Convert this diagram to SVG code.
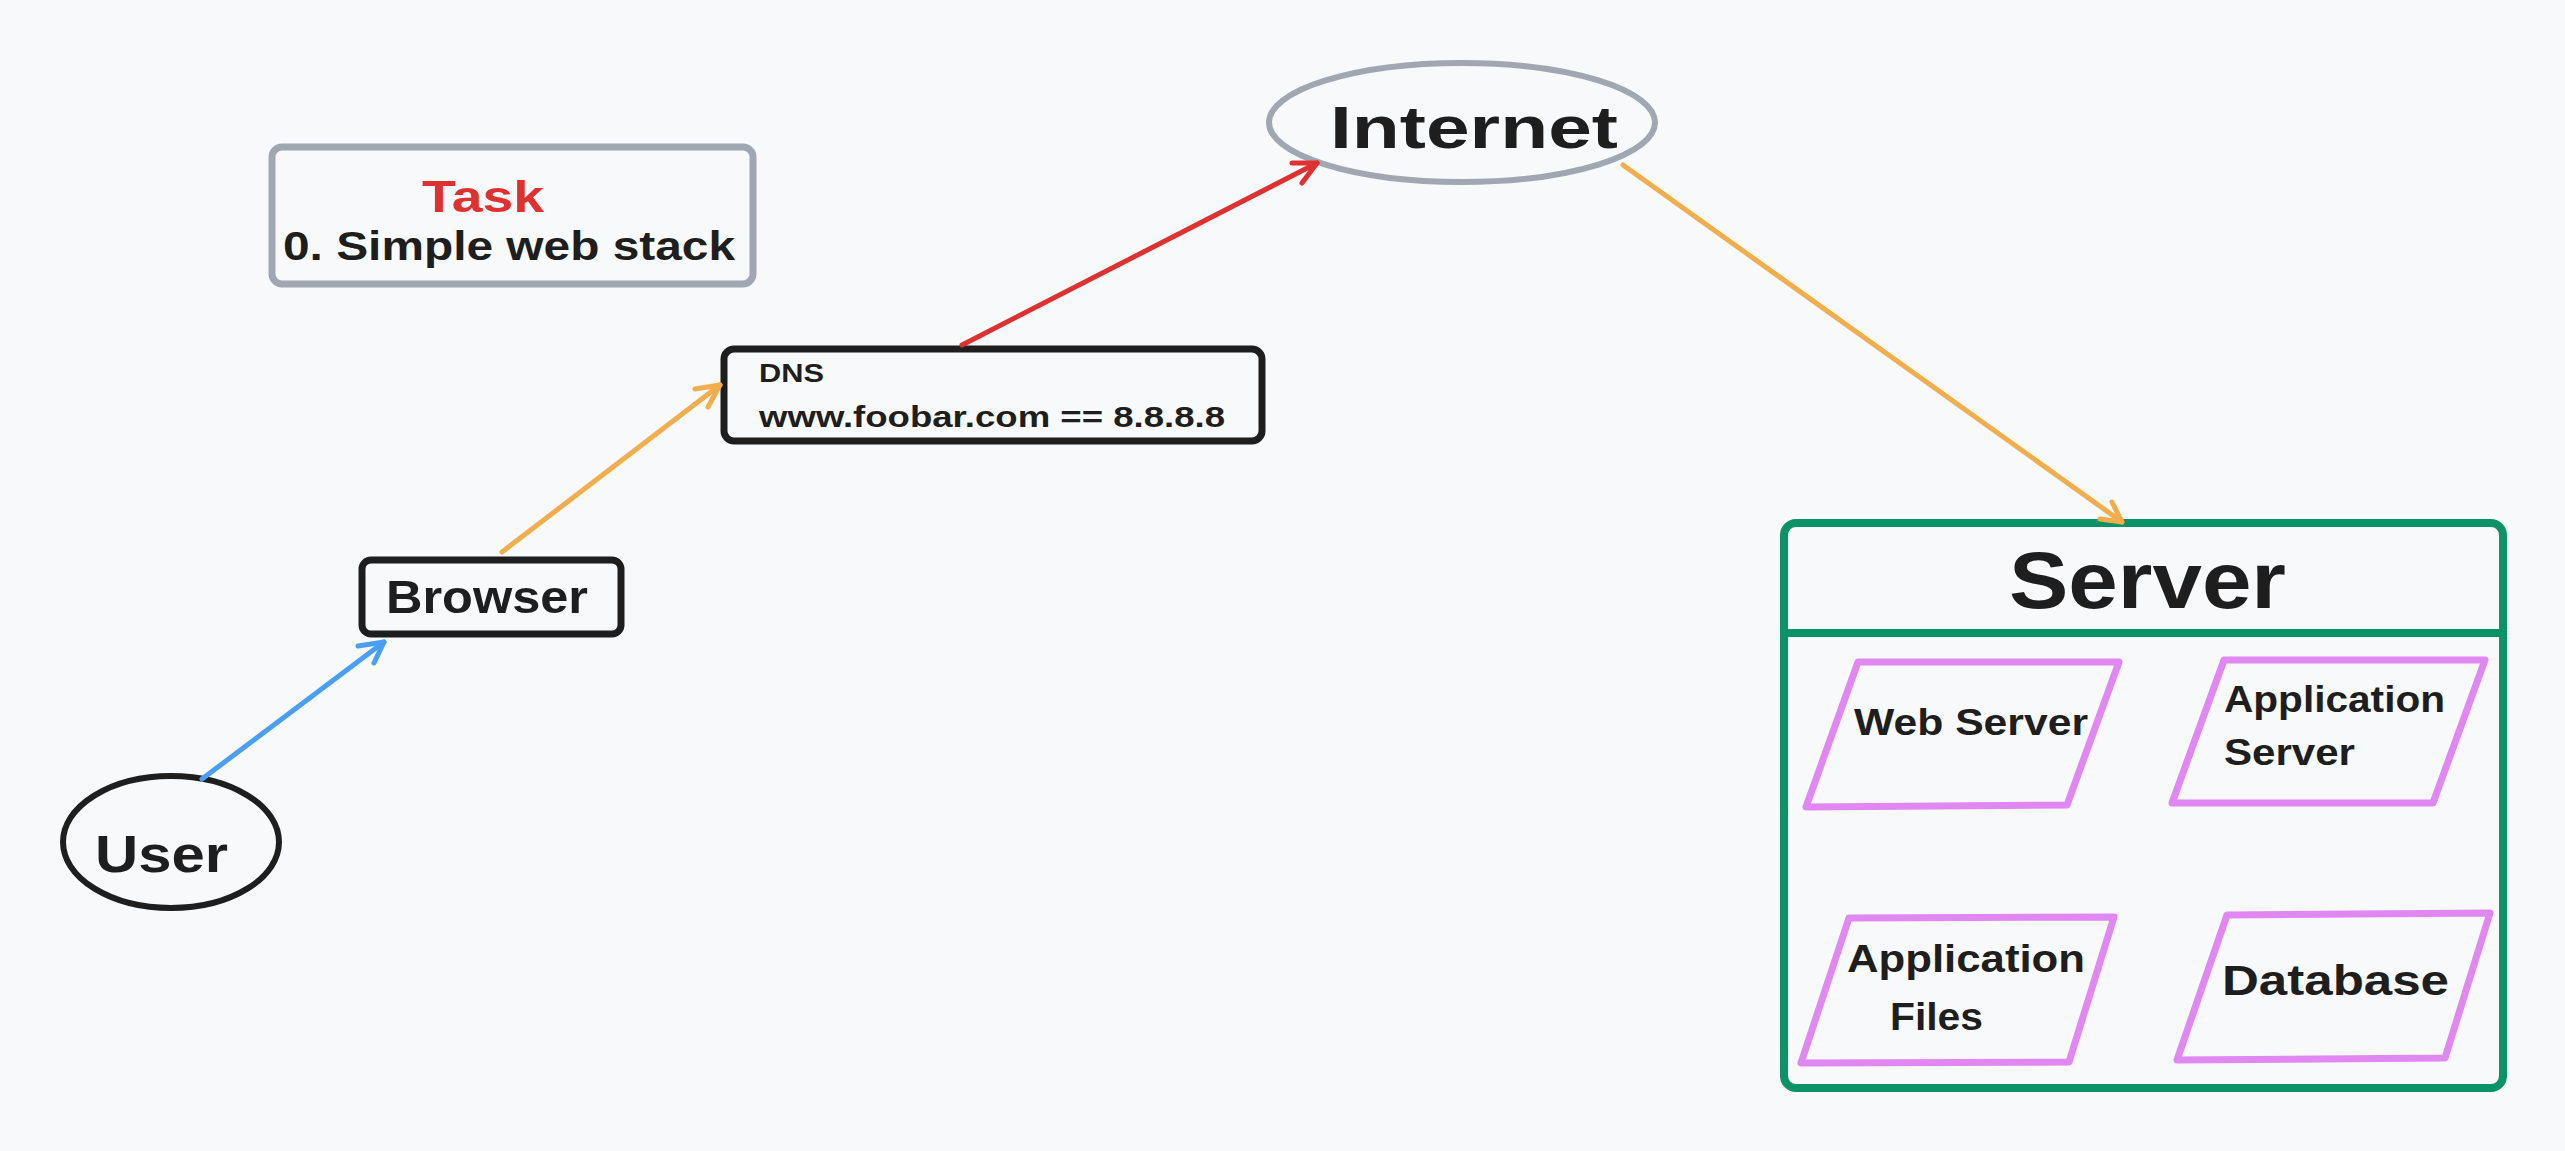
<svg xmlns="http://www.w3.org/2000/svg" width="2565" height="1151" viewBox="0 0 2565 1151">
<style>
  .t { font-family: "Liberation Sans", Arial, sans-serif; font-weight: bold; fill: #1e1e1e; }
  .box { fill: none; stroke: #1e1e1e; stroke-width: 7; }
  .gray { fill: none; stroke: #a0a7b2; stroke-width: 7; }
  .para { fill: none; stroke: #e087f2; stroke-width: 7; stroke-linejoin: round; }
  .arrow { fill: none; stroke-width: 5; stroke-linecap: round; stroke-linejoin: round; }
</style>
<rect width="2565" height="1151" fill="#f8f9fa"/>

<g id="task">
  <rect class="gray" x="272" y="147" width="481" height="137" rx="10"/>
  <text class="t" x="483" y="212" font-size="44" style="fill:#e03131" text-anchor="middle" textLength="122" lengthAdjust="spacingAndGlyphs">Task</text>
  <text class="t" x="283" y="260" font-size="41" textLength="452" lengthAdjust="spacingAndGlyphs">0. Simple web stack</text>
</g>

<g id="user">
  <ellipse cx="171" cy="842" rx="108" ry="66" fill="none" stroke="#1e1e1e" stroke-width="6"/>
  <text class="t" x="95" y="872" font-size="52" textLength="133" lengthAdjust="spacingAndGlyphs">User</text>
</g>

<g id="browser">
  <rect class="box" x="362" y="560" width="259" height="74" rx="9"/>
  <text class="t" x="386" y="613" font-size="46" textLength="202" lengthAdjust="spacingAndGlyphs">Browser</text>
</g>

<g id="dns">
  <rect class="box" x="724" y="349" width="538" height="92" rx="10"/>
  <text class="t" x="759" y="382" font-size="26" textLength="65" lengthAdjust="spacingAndGlyphs">DNS</text>
  <text class="t" x="759" y="427" font-size="30" textLength="466" lengthAdjust="spacingAndGlyphs">www.foobar.com == 8.8.8.8</text>
</g>

<g id="internet">
  <ellipse cx="1462" cy="122.5" rx="193" ry="59.5" fill="none" stroke="#a0a7b2" stroke-width="6"/>
  <text class="t" x="1330" y="148" font-size="60" textLength="288" lengthAdjust="spacingAndGlyphs">Internet</text>
</g>

<g id="server">
  <rect x="1784" y="523" width="719" height="565" rx="12" fill="none" stroke="#0c9267" stroke-width="8"/>
  <line x1="1784" y1="633" x2="2503" y2="633" stroke="#0c9267" stroke-width="8"/>
  <text class="t" x="2009" y="608" font-size="80" textLength="277" lengthAdjust="spacingAndGlyphs">Server</text>
</g>

<g id="web-server">
  <path class="para" d="M1858 662 L2119 662 L2067 805 L1806 807 Z"/>
  <text class="t" x="1854" y="735" font-size="36" textLength="234" lengthAdjust="spacingAndGlyphs">Web Server</text>
</g>

<g id="application-server">
  <path class="para" d="M2224 660 L2485 660 L2433 803 L2172 803 Z"/>
  <text class="t" x="2224" y="712" font-size="36" textLength="221" lengthAdjust="spacingAndGlyphs">Application</text>
  <text class="t" x="2224" y="765" font-size="36" textLength="131" lengthAdjust="spacingAndGlyphs">Server</text>
</g>

<g id="application-files">
  <path class="para" d="M1849 918 L2114 917 L2069 1062 L1801 1063 Z"/>
  <text class="t" x="1847" y="972" font-size="38" textLength="238" lengthAdjust="spacingAndGlyphs">Application</text>
  <text class="t" x="1890" y="1030" font-size="38" textLength="93" lengthAdjust="spacingAndGlyphs">Files</text>
</g>

<g id="database">
  <path class="para" d="M2227 915 L2490 913 L2445 1058 L2177 1060 Z"/>
  <text class="t" x="2222" y="995" font-size="42" textLength="227" lengthAdjust="spacingAndGlyphs">Database</text>
</g>

<g id="connectors">
  <g stroke="#4a9ff5" class="arrow">
    <path d="M202 779 L384 642"/>
    <path d="M358 646 L384 642 L374 663"/>
  </g>
  <g stroke="#f2ad4c" class="arrow">
    <path d="M502 552 L720 385"/>
    <path d="M695 389 L720 385 L708 407"/>
  </g>
  <g stroke="#e03131" class="arrow">
    <path d="M962 345 L1317 163"/>
    <path d="M1292 163 L1317 163 L1302 183"/>
  </g>
  <g stroke="#f2ad4c" class="arrow">
    <path d="M1623 165 L2122 522"/>
    <path d="M2100 519 L2122 522 L2112 502"/>
  </g>
</g>
</svg>
